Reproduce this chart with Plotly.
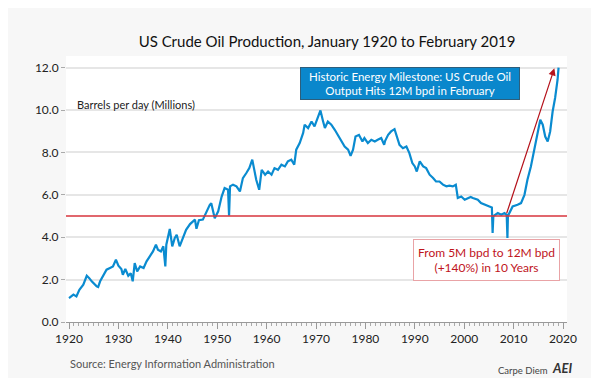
import plotly.graph_objects as go

# ---- data (decimal year, million barrels per day) ----
years = [
    1920.0, 1920.9, 1921.5, 1922.1, 1922.9, 1923.6, 1924.1, 1924.6, 1925.6, 1925.9,
    1926.3, 1926.9, 1927.6, 1928.3, 1928.9, 1929.5, 1930.0, 1930.6, 1930.9, 1931.4,
    1932.0, 1932.5, 1932.9, 1933.3, 1933.8, 1934.4, 1935.1, 1935.7, 1936.4, 1937.0,
    1937.6, 1938.0, 1938.6, 1939.1, 1939.5, 1939.7, 1940.4, 1940.9, 1941.4, 1941.8,
    1942.4, 1942.9, 1943.7, 1944.5, 1945.0, 1945.5, 1945.8, 1946.3, 1947.1, 1947.8,
    1948.5, 1948.8, 1949.5, 1950.2, 1950.9, 1951.5, 1952.2, 1952.4, 1952.6, 1953.2,
    1953.9, 1954.6, 1955.2, 1955.9, 1956.5, 1957.1, 1957.6, 1957.9, 1958.5, 1959.0,
    1959.7, 1960.3, 1961.0, 1961.6, 1962.3, 1963.0, 1963.7, 1964.3, 1965.0, 1965.6,
    1966.0, 1966.7, 1967.4, 1967.7, 1968.4, 1969.1, 1969.7, 1970.4, 1970.9, 1971.4,
    1971.8, 1972.4, 1973.1, 1973.8, 1974.4, 1975.1, 1975.8, 1976.5, 1977.0, 1977.5,
    1978.0, 1978.7, 1979.4, 1979.8, 1980.5, 1981.2, 1981.9, 1982.5, 1983.2, 1983.8,
    1984.0, 1984.6, 1985.2, 1985.9, 1986.3, 1986.9, 1987.6, 1988.3, 1988.9, 1989.5,
    1990.0, 1990.4, 1991.0, 1991.7, 1992.3, 1993.0, 1993.7, 1994.3, 1995.0, 1995.7,
    1996.4, 1997.0, 1997.7, 1998.3, 1998.7, 1999.4, 2000.1, 2000.9, 2001.3, 2001.75,
    2002.75, 2003.4, 2004.1, 2005.1, 2005.6, 2005.75, 2005.9, 2006.8, 2007.5, 2008.15,
    2008.6, 2008.75, 2008.85, 2009.1, 2009.8, 2010.8, 2011.5, 2012.2, 2012.8, 2013.5,
    2014.2, 2014.9, 2015.4, 2015.9, 2016.4, 2016.9, 2017.4, 2017.9, 2018.4, 2018.9,
    2019.1,
]
production = [
    1.13, 1.29, 1.21, 1.52, 1.76, 2.18, 2.07, 1.92, 1.68, 1.65,
    1.92, 2.15, 2.47, 2.55, 2.62, 2.94, 2.66, 2.50, 2.23, 2.50,
    2.18, 2.30, 1.92, 2.78, 2.39, 2.62, 2.55, 2.86, 3.09, 3.33,
    3.65, 3.41, 3.33, 3.57, 2.62, 3.65, 4.39, 3.57, 3.96, 4.12,
    3.57, 3.88, 4.35, 4.62, 4.75, 4.83, 4.40, 4.80, 4.83, 5.22,
    5.53, 5.60, 4.90, 5.22, 5.92, 6.32, 6.24, 5.01, 6.40, 6.48,
    6.40, 6.16, 6.79, 7.03, 7.26, 7.66, 6.95, 6.71, 6.24, 7.18,
    6.95, 7.10, 6.95, 7.26, 7.18, 7.42, 7.34, 7.58, 7.66, 7.42,
    8.13, 8.44, 8.92, 9.31, 9.15, 9.46, 9.23, 9.62, 9.98, 9.50,
    9.15, 9.46, 9.31, 9.07, 8.83, 8.52, 8.28, 8.13, 7.84, 8.13,
    8.75, 8.83, 8.52, 8.68, 8.44, 8.60, 8.52, 8.60, 8.68, 8.36,
    8.55, 8.83, 8.99, 9.10, 8.75, 8.36, 8.20, 8.28, 7.97, 7.50,
    7.34, 7.10, 7.58, 7.34, 7.26, 6.95, 6.79, 6.63, 6.63, 6.48,
    6.40, 6.43, 6.40, 6.48, 5.85, 5.92, 5.77, 5.85, 5.90, 5.85,
    5.77, 5.61, 5.53, 5.45, 5.40, 4.20, 5.00, 5.14, 5.06, 5.14,
    5.06, 3.96, 5.00, 5.14, 5.45, 5.53, 5.61, 6.00, 6.71, 7.34,
    8.13, 8.92, 9.54, 9.31, 8.75, 8.52, 8.99, 9.93, 10.57, 11.43,
    12.00,
]

x_ticks = [1920, 1930, 1940, 1950, 1960, 1970, 1980, 1990, 2000, 2010, 2020]
y_ticks = [0, 2, 4, 6, 8, 10, 12]
y_tick_labels = ["0.0", "2.0", "4.0", "6.0", "8.0", "10.0", "12.0"]

baseline_level = 5.0
arrow_start = (2008.5, 5.06)
arrow_end = (2018.25, 11.97)

# page body has an 8px default margin; lay the figure out in page pixels minus it
OFF = 8
PAGE_W, PAGE_H = 599, 378
W, H = PAGE_W - OFF, PAGE_H - OFF
# plot area in page pixels: x 66..567, y 56..322
L, T = 66 - OFF, 56 - OFF
PW, PH = 501, 266
R = W - L - PW
B = H - T - PH


def px(xp):
    return (xp - OFF - L) / PW


def py(yp):
    return (T + PH - (yp - OFF)) / PH


FONT = "Lato"

fig = go.Figure()
fig.add_trace(go.Scatter(
    x=years, y=production, mode="lines",
    line=dict(color="#0a8bd0", width=2.2),
    hoverinfo="skip", showlegend=False,
))

fig.add_shape(type="line", xref="paper", yref="y", x0=0, x1=1,
              y0=baseline_level, y1=baseline_level,
              line=dict(color="#d7343c", width=1.5))

annotations = [
    dict(text="Barrels per day (Millions)", x=px(75), y=py(104), xref="paper", yref="paper",
         xanchor="left", yanchor="middle", showarrow=False,
         font=dict(family=FONT, size=11, color="#222")),
    dict(text="Historic Energy Milestone: US Crude Oil<br>Output Hits 12M bpd in February",
         x=px(410), y=py(83), xref="paper", yref="paper", xanchor="center", yanchor="middle",
         showarrow=False, bgcolor="#0a87cc", bordercolor="#2d5e7c", borderwidth=1,
         width=216, height=29, align="center",
         font=dict(family=FONT, size=11.5, color="white")),
    dict(text="From 5M bpd to 12M bpd<br>(+140%) in 10 Years",
         x=px(486), y=py(260), xref="paper", yref="paper", xanchor="center", yanchor="middle",
         showarrow=False, bgcolor="white", bordercolor="#e9a3a6", borderwidth=1,
         width=143, height=38, align="center",
         font=dict(family=FONT, size=12, color="#c0141c")),
    dict(text="", x=arrow_end[0], y=arrow_end[1], ax=arrow_start[0], ay=arrow_start[1],
         xref="x", yref="y", axref="x", ayref="y", showarrow=True,
         arrowhead=2, arrowsize=1.2, arrowwidth=1.2, arrowcolor="#b5121b"),
    dict(text="Source: Energy Information Administration", x=px(68), y=py(363),
         xref="paper", yref="paper", xanchor="left", yanchor="middle", showarrow=False,
         font=dict(family=FONT, size=11, color="#555")),
    dict(text="Carpe Diem", x=px(496), y=py(370), xref="paper", yref="paper",
         xanchor="left", yanchor="middle", showarrow=False,
         font=dict(family=FONT, size=9.5, color="#444")),
    dict(text="<b><i>AEI</i></b>", x=px(550), y=py(368), xref="paper", yref="paper",
         xanchor="left", yanchor="middle", showarrow=False,
         font=dict(family=FONT, size=13, color="#333")),
]

x_lo = 1920 - 3 / 4.946
x_hi = 2020 + 4 / 4.946

fig.update_layout(
    width=W, height=H,
    margin=dict(l=L, r=R, t=T, b=B),
    paper_bgcolor="#f7f7f7", plot_bgcolor="white",
    title=dict(text="US Crude Oil Production, January 1920 to February 2019",
               x=(327 - OFF) / W, xanchor="center",
               y=1 - (42 - OFF) / H, yanchor="middle",
               font=dict(family=FONT, size=15, color="#111")),
    annotations=annotations,
    xaxis=dict(range=[x_lo, x_hi], tickvals=x_ticks, showgrid=False, zeroline=False,
               showline=True, linecolor="#999", linewidth=1,
               ticks="outside", ticklen=6, tickcolor="#999",
               minor=dict(ticks="outside", ticklen=3, dtick=1, tick0=1920, tickcolor="#aaa"),
               tickfont=dict(family=FONT, size=12, color="#222")),
    yaxis=dict(range=[0, 12.55], tickvals=y_ticks, ticktext=y_tick_labels,
               showgrid=True, gridcolor="#e6e6e6", gridwidth=1.5, zeroline=False,
               showline=False, ticks="outside", ticklen=4, tickcolor="#aaa",
               tickfont=dict(family=FONT, size=12, color="#222")),
)

fig.write_html("out.html")
